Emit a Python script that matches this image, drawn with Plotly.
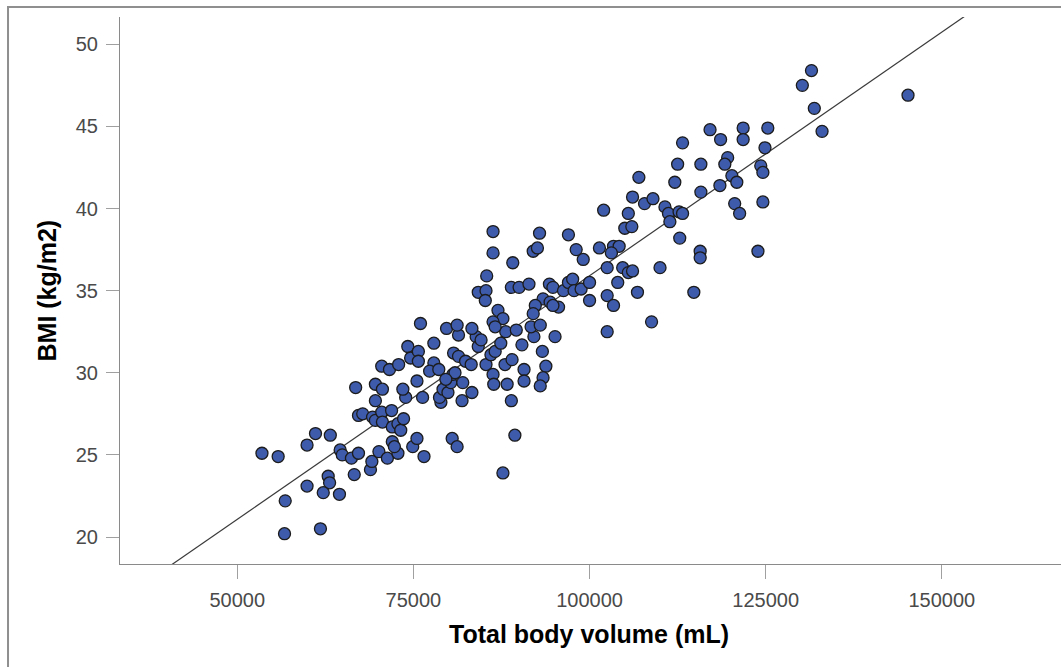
import plotly.graph_objects as go
import numpy as np

# Total body volume (mL)
volume = [
    53500, 55800, 59900, 61100, 63200, 64600, 64900, 66200, 67200, 62900,
    63100, 59900, 62200, 64500, 56800, 56700, 61800, 66600, 68900, 69100,
    70100, 71300, 72800, 72000, 72300, 74900, 75500, 67200, 67800, 69200,
    69600, 70500, 71900, 70600, 72000, 72800, 73200, 73600, 69600, 73900,
    66800, 69600, 70600, 70500, 71600, 72900, 74200, 74600, 75700, 75700,
    75500, 73500, 76000,
    76300, 77900, 77900, 77300, 78600, 78900, 78700, 79200, 79900, 80300,
    80600, 80900, 79600, 80700, 81400, 82000, 81900, 83300, 82400, 83200,
    81400, 83900, 84200, 84600, 85300, 86300, 86400, 86000, 86600, 87400,
    88000, 88300, 89000, 88900, 88100, 89600, 90400, 90700, 90700, 92100,
    93300, 93800, 93400, 93000, 95100, 89400, 80500, 81200, 76500, 87700,
    86300, 92900, 97000, 86300, 89100, 92000, 92600, 98100, 99100, 85400,
    84200, 85300, 85200, 88900, 90000, 91400, 94300, 94800, 96300, 97000,
    97600, 97800, 98800, 100000, 100000, 93400, 94400, 95600, 94800, 92300,
    92000, 87000, 87700, 86300, 86600, 79700, 81200, 83300, 91700, 93000,
    102500, 104700, 105500, 106100, 110000, 104000, 102500, 103400, 106800, 114800,
    108800, 102500,
    112500, 115800, 119600, 119200, 107000, 112100, 120200, 120900, 118500, 115800,
    106100, 107800, 109000, 102000, 105500, 110700, 111200, 112700, 113200, 111400,
    120600, 121300, 105000, 106000, 112800, 101400, 103400, 104200, 103100, 115700,
    115700, 123900,
    113200, 117100, 118600, 121800, 121800, 125300, 124900, 124300, 124600,
    130200, 131900, 145200, 133000, 124600, 131500,
]

# BMI (kg/m2)
bmi = [
    25.1, 24.9, 25.6, 26.3, 26.2, 25.3, 25.0, 24.8, 25.1, 23.7,
    23.3, 23.1, 22.7, 22.6, 22.2, 20.2, 20.5, 23.8, 24.1, 24.6,
    25.2, 24.8, 25.1, 25.8, 25.5, 25.5, 26.0, 27.4, 27.5, 27.3,
    27.1, 27.6, 27.7, 27.0, 26.7, 26.9, 26.5, 27.2, 28.3, 28.5,
    29.1, 29.3, 29.0, 30.4, 30.2, 30.5, 31.6, 30.9, 31.3, 30.7,
    29.5, 29.0, 33.0,
    28.5, 31.8, 30.6, 30.1, 30.2, 28.2, 28.5, 29.0, 28.8, 29.4,
    29.9, 30.0, 29.6, 31.2, 31.0, 29.4, 28.3, 28.8, 30.7, 30.5,
    32.3, 32.2, 31.6, 32.0, 30.5, 29.9, 29.3, 31.1, 31.3, 31.8,
    30.5, 29.3, 30.8, 28.3, 32.5, 32.6, 31.7, 30.2, 29.5, 32.2,
    31.3, 30.4, 29.7, 29.2, 32.2, 26.2, 26.0, 25.5, 24.9, 23.9,
    38.6, 38.5, 38.4, 37.3, 36.7, 37.4, 37.6, 37.5, 36.9, 35.9,
    34.9, 35.0, 34.4, 35.2, 35.2, 35.4, 35.4, 35.2, 35.0, 35.5,
    35.7, 35.0, 35.1, 35.5, 34.4, 34.5, 34.3, 34.0, 34.1, 34.1,
    33.6, 33.8, 33.3, 33.1, 32.8, 32.7, 32.9, 32.7, 32.8, 32.9,
    36.4, 36.4, 36.1, 36.2, 36.4, 35.5, 34.7, 34.1, 34.9, 34.9,
    33.1, 32.5,
    42.7, 42.7, 43.1, 42.7, 41.9, 41.6, 42.0, 41.6, 41.4, 41.0,
    40.7, 40.3, 40.6, 39.9, 39.7, 40.1, 39.7, 39.8, 39.7, 39.2,
    40.3, 39.7, 38.8, 38.9, 38.2, 37.6, 37.7, 37.7, 37.3, 37.4,
    37.0, 37.4,
    44.0, 44.8, 44.2, 44.9, 44.2, 44.9, 43.7, 42.6, 42.2,
    47.5, 46.1, 46.9, 44.7, 40.4, 48.4,
]

# Fit line
fit_intercept = 6.243
fit_slope = 0.00029667

x_ticks = [50000, 75000, 100000, 125000, 150000]
y_ticks = [20, 25, 30, 35, 40, 45, 50]
x_range = [33350, 166916]
y_range = [18.356, 51.663]

line_x = np.array(x_range, dtype=float)
line_y = fit_intercept + fit_slope * line_x

fig = go.Figure()
fig.add_trace(go.Scatter(
    x=line_x, y=line_y, mode="lines",
    line=dict(color="#3a3a3a", width=1.2),
    hoverinfo="skip", showlegend=False,
))
fig.add_trace(go.Scatter(
    x=volume, y=bmi, mode="markers",
    marker=dict(size=12, color="#3d5aab", line=dict(color="#1c1c1c", width=1.3)),
    showlegend=False, cliponaxis=False,
))

tick_font = dict(family="Liberation Sans, Arial, sans-serif", size=20, color="#4a4a4a")
title_font = dict(family="Liberation Sans, Arial, sans-serif", size=25, color="#000000", weight="bold")
fig.update_layout(
    width=1061, height=667,
    margin=dict(l=120, r=0, t=17, b=103),
    paper_bgcolor="white", plot_bgcolor="white",
    xaxis=dict(
        range=x_range, tickvals=x_ticks, ticktext=[str(v) for v in x_ticks],
        showgrid=False, zeroline=False,
        showline=True, linecolor="#8a8a8a", linewidth=1,
        ticks="outside", ticklen=14, tickcolor="#a0a0a0", tickwidth=1,
        tickfont=tick_font, ticklabelstandoff=4,
    ),
    yaxis=dict(
        range=y_range, tickvals=y_ticks,
        showgrid=False, zeroline=False,
        showline=True, linecolor="#8a8a8a", linewidth=1,
        ticks="outside", ticklen=13, tickcolor="#a0a0a0", tickwidth=1,
        tickfont=tick_font, ticklabelstandoff=4,
    ),
    annotations=[
        dict(text="Total body volume (mL)", xref="paper", yref="paper",
             x=0.498, y=-0.128, xanchor="center", yanchor="middle",
             showarrow=False, font=title_font),
        dict(text="BMI (kg/m2)", xref="paper", yref="paper",
             x=-0.0776, y=0.5, xanchor="center", yanchor="middle",
             textangle=-90, showarrow=False, font=title_font),
    ],
    shapes=[
        dict(type="rect", xref="paper", yref="paper",
             x0=-0.119, x1=1.2, y0=-0.3, y1=1.0183,
             line=dict(color="#8f8f8f", width=2), fillcolor="rgba(0,0,0,0)", layer="below"),
    ],
)

fig.write_html("out.html")
